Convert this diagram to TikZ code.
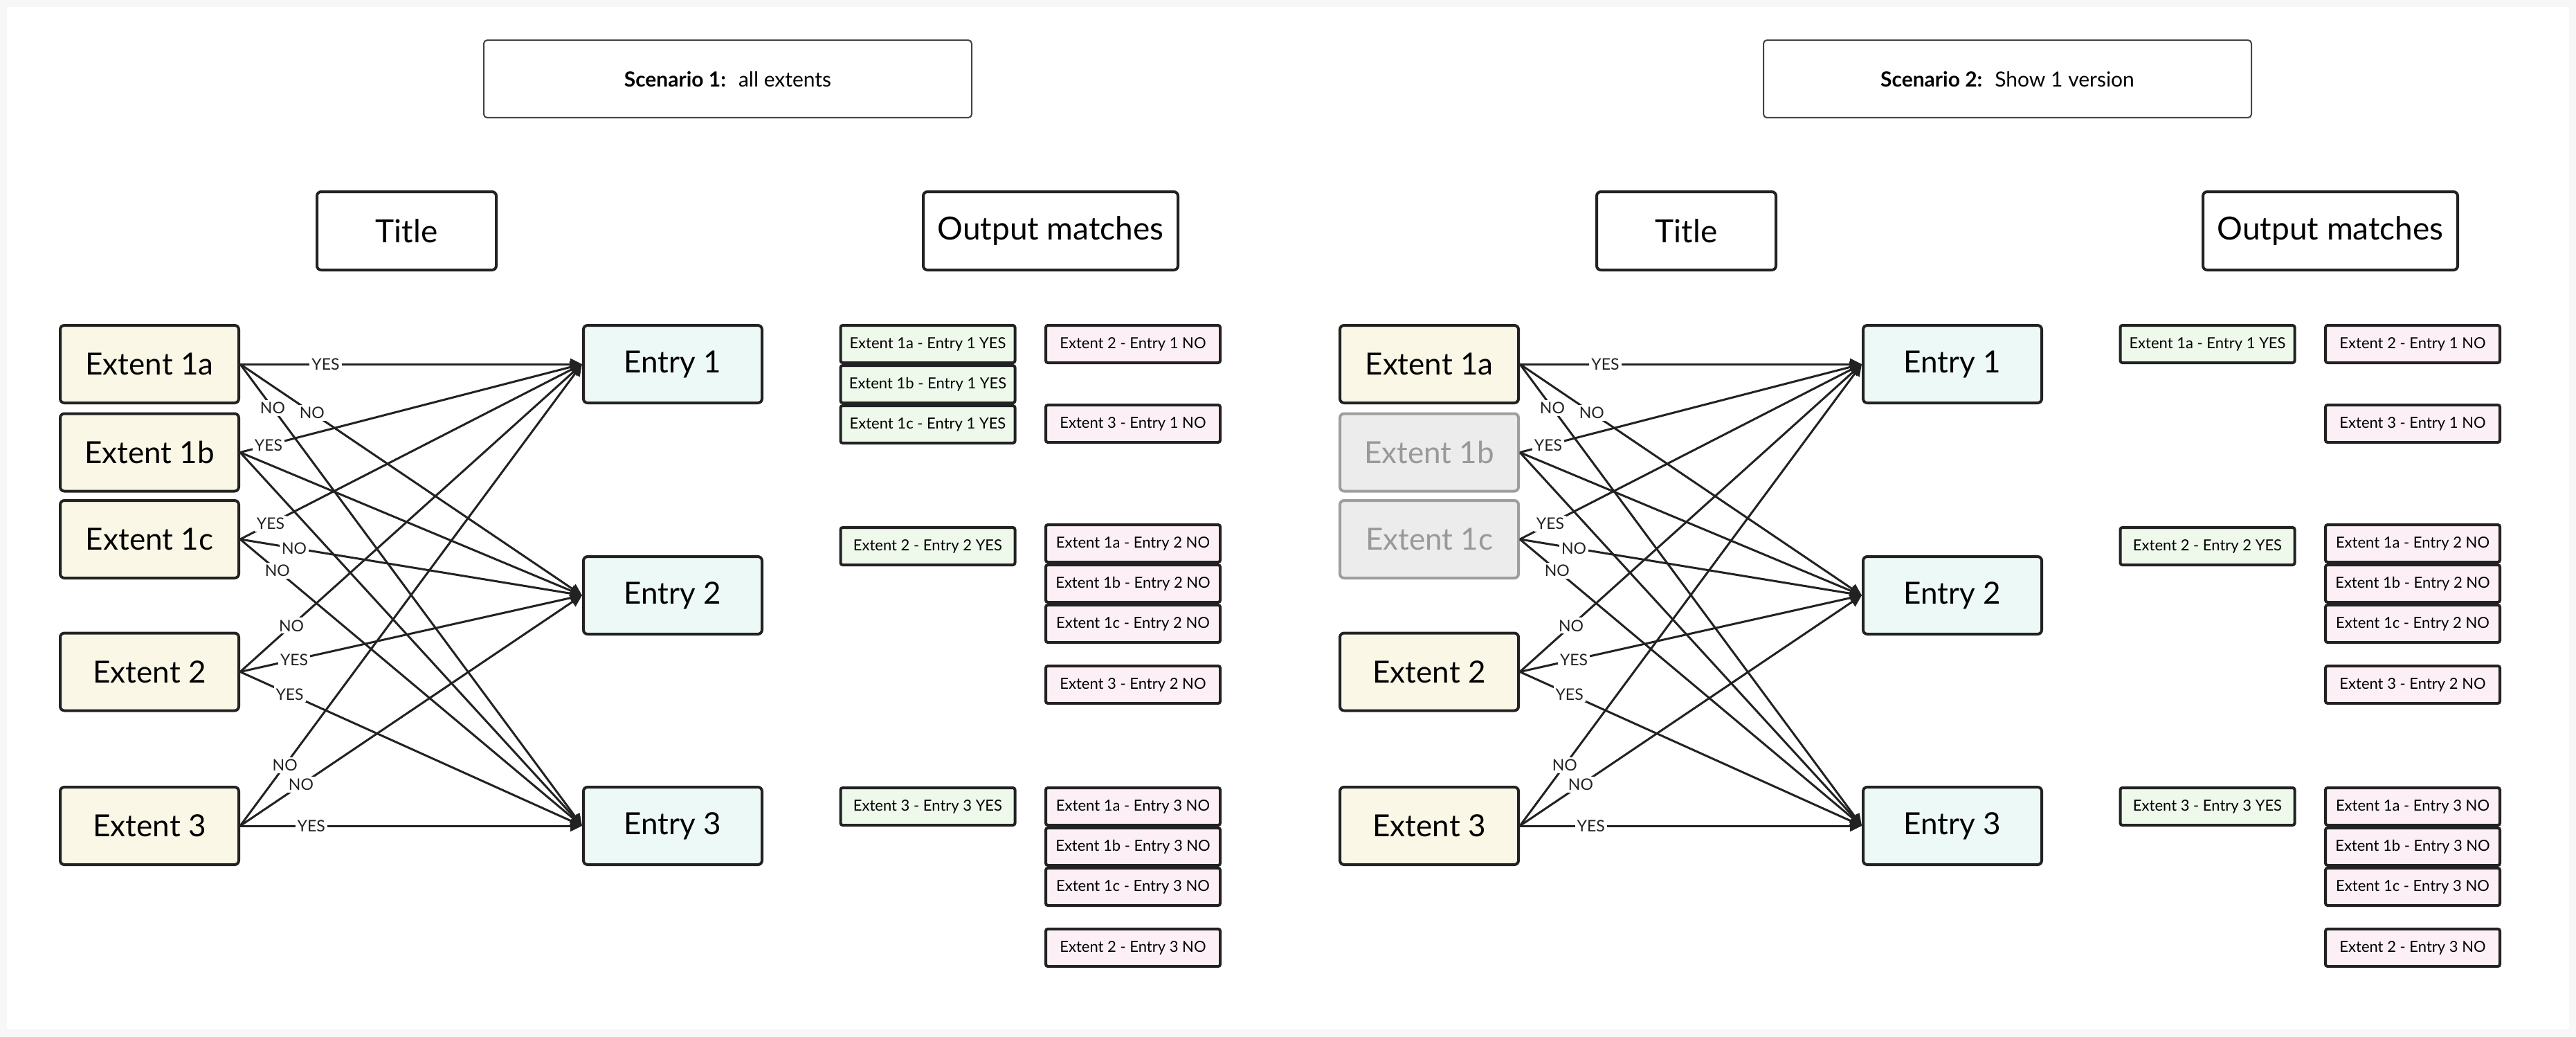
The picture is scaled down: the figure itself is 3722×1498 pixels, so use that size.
\documentclass[tikz,border=0pt]{standalone}
\usepackage{fontspec}
\setmainfont{Lato}
\usetikzlibrary{arrows.meta}
\definecolor{ink}{HTML}{222222}
\definecolor{frame}{HTML}{F7F7F7}
\definecolor{extfill}{HTML}{FAF7E6}
\definecolor{entfill}{HTML}{EDF9F7}
\definecolor{yesfill}{HTML}{EEF8EB}
\definecolor{nofill}{HTML}{FCF0F6}
\definecolor{grayfill}{HTML}{ECECEC}
\definecolor{grayline}{HTML}{9E9E9E}
\definecolor{graytext}{HTML}{999999}
\definecolor{scenline}{HTML}{444444}
\newcommand\drawedges[1]{%
  \foreach \s/\d in {x1a/n1,x1a/n2,x1a/n3,x1b/n1,x1b/n2,x1b/n3,x1c/n1,x1c/n2,x1c/n3,x2/n1,x2/n2,x2/n3,x3/n1,x3/n2,x3/n3}
    \draw[conn] (#1\s.east) -- (#1\d.west);
  \foreach \s/\d/\p/\t in {x1a/n1/.25/YES,x1a/n2/.21/NO,x1a/n3/.095/NO,x1b/n1/.083/YES,x1c/n1/.089/YES,x1c/n2/.158/NO,x1c/n3/.109/NO,x2/n1/.15/NO,x2/n2/.158/YES,x2/n3/.145/YES,x3/n1/.131/NO,x3/n2/.178/NO,x3/n3/.208/YES}
    \path (#1\s.east) -- node[lbl,pos=\p]{\t} (#1\d.west);
}
\begin{document}
\begin{tikzpicture}[x=1pt,y=-1pt,
  box/.style={draw=ink,line width=4pt,rounded corners=6pt,inner sep=0pt,align=center},
  extbox/.style={box,fill=extfill,minimum width=258pt,minimum height=112pt,font=\fontsize{44}{52}\selectfont},
  graybox/.style={extbox,fill=grayfill,draw=grayline,text=graytext},
  entbox/.style={box,fill=entfill,minimum width=258pt,minimum height=112pt,font=\fontsize{44}{52}\selectfont},
  headbox/.style={box,fill=white,minimum height=113pt,font=\fontsize{46}{54}\selectfont},
  scenbox/.style={draw=scenline,line width=2pt,rounded corners=5pt,fill=white,minimum width=705pt,minimum height=112pt,font=\fontsize{30}{36}\selectfont,inner sep=0pt},
  outbox/.style={draw=ink,line width=4pt,rounded corners=3pt,inner sep=0pt,minimum width=252pt,minimum height=54pt,font=\fontsize{22}{26}\selectfont},
  yesbox/.style={outbox,fill=yesfill},
  nobox/.style={outbox,fill=nofill},
  conn/.style={draw=ink,line width=3pt,-{Triangle[length=17pt,width=16pt]}},
  lbl/.style={fill=white,inner sep=3pt,font=\fontsize{23}{26}\selectfont,text=ink}
]
\useasboundingbox (0,0) rectangle (3722,1498);
\fill[frame] (0,0) rectangle (3722,1498);
\fill[white] (10,10) rectangle (3712,1487);

% ---------- Scenario 1 ----------
\node[scenbox] (s1head) at (1051.5,114) {\textbf{Scenario 1:}\hspace{0.6em}all extents};
\node[headbox,minimum width=259pt] (s1title) at (587.5,333.5) {Title};
\node[headbox,minimum width=368pt] (s1out) at (1518,333.5) {Output matches};

\node[extbox] (s1x1a) at (216,526) {Extent 1a};
\node[extbox] (s1x1b) at (216,653.5) {Extent 1b};
\node[extbox] (s1x1c) at (216,779) {Extent 1c};
\node[extbox] (s1x2) at (216,970.5) {Extent 2};
\node[extbox] (s1x3) at (216,1193) {Extent 3};
\node[entbox] (s1n1) at (972,526) {Entry 1};
\node[entbox] (s1n2) at (972,860) {Entry 2};
\node[entbox] (s1n3) at (972,1193) {Entry 3};
\drawedges{s1}

\node[yesbox] (s1y1) at (1340.5,497) {Extent 1a - Entry 1 YES};
\node[yesbox] (s1y2) at (1340.5,555) {Extent 1b - Entry 1 YES};
\node[yesbox] (s1y3) at (1340.5,613) {Extent 1c - Entry 1 YES};
\node[yesbox] (s1y4) at (1340.5,789) {Extent 2 - Entry 2 YES};
\node[yesbox] (s1y5) at (1340.5,1165) {Extent 3 - Entry 3 YES};

\node[nobox] (s1o1) at (1637,497) {Extent 2 - Entry 1 NO};
\node[nobox] (s1o2) at (1637,612) {Extent 3 - Entry 1 NO};
\node[nobox] (s1o3) at (1637,785) {Extent 1a - Entry 2 NO};
\node[nobox] (s1o4) at (1637,843) {Extent 1b - Entry 2 NO};
\node[nobox] (s1o5) at (1637,901) {Extent 1c - Entry 2 NO};
\node[nobox] (s1o6) at (1637,989) {Extent 3 - Entry 2 NO};
\node[nobox] (s1o7) at (1637,1165) {Extent 1a - Entry 3 NO};
\node[nobox] (s1o8) at (1637,1223) {Extent 1b - Entry 3 NO};
\node[nobox] (s1o9) at (1637,1281) {Extent 1c - Entry 3 NO};
\node[nobox] (s1o10) at (1637,1369) {Extent 2 - Entry 3 NO};

% ---------- Scenario 2 ----------
\node[scenbox] (s2head) at (2900.5,114) {\textbf{Scenario 2:}\hspace{0.6em}Show 1 version};
\node[headbox,minimum width=259pt] (s2title) at (2436.5,333.5) {Title};
\node[headbox,minimum width=368pt] (s2out) at (3367,333.5) {Output matches};

\node[extbox] (s2x1a) at (2065,526) {Extent 1a};
\node[graybox] (s2x1b) at (2065,653.5) {Extent 1b};
\node[graybox] (s2x1c) at (2065,779) {Extent 1c};
\node[extbox] (s2x2) at (2065,970.5) {Extent 2};
\node[extbox] (s2x3) at (2065,1193) {Extent 3};
\node[entbox] (s2n1) at (2821,526) {Entry 1};
\node[entbox] (s2n2) at (2821,860) {Entry 2};
\node[entbox] (s2n3) at (2821,1193) {Entry 3};
\drawedges{s2}

\node[yesbox] (s2y1) at (3189.5,497) {Extent 1a - Entry 1 YES};
\node[yesbox] (s2y4) at (3189.5,789) {Extent 2 - Entry 2 YES};
\node[yesbox] (s2y5) at (3189.5,1165) {Extent 3 - Entry 3 YES};

\node[nobox] (s2o1) at (3486,497) {Extent 2 - Entry 1 NO};
\node[nobox] (s2o2) at (3486,612) {Extent 3 - Entry 1 NO};
\node[nobox] (s2o3) at (3486,785) {Extent 1a - Entry 2 NO};
\node[nobox] (s2o4) at (3486,843) {Extent 1b - Entry 2 NO};
\node[nobox] (s2o5) at (3486,901) {Extent 1c - Entry 2 NO};
\node[nobox] (s2o6) at (3486,989) {Extent 3 - Entry 2 NO};
\node[nobox] (s2o7) at (3486,1165) {Extent 1a - Entry 3 NO};
\node[nobox] (s2o8) at (3486,1223) {Extent 1b - Entry 3 NO};
\node[nobox] (s2o9) at (3486,1281) {Extent 1c - Entry 3 NO};
\node[nobox] (s2o10) at (3486,1369) {Extent 2 - Entry 3 NO};
\end{tikzpicture}
\end{document}
